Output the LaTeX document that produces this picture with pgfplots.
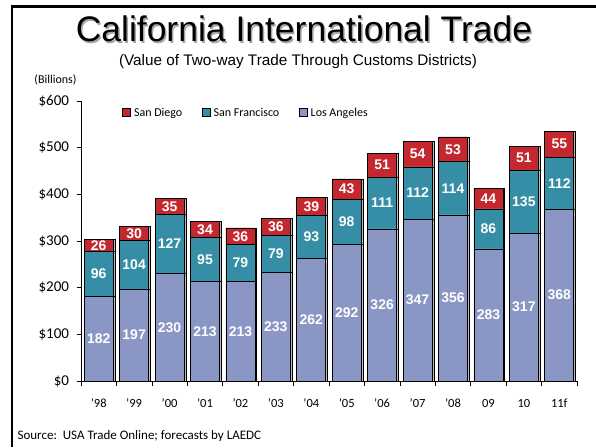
\documentclass[border=0pt]{standalone}
\usepackage{pgfplots}
\pgfplotsset{compat=1.18}
\usepackage{fontspec}
\setmainfont{Carlito}
\newfontfamily\arial{Liberation Sans}
\definecolor{sdred}{HTML}{C4282E}
\definecolor{sfteal}{HTML}{358EA5}
\definecolor{lalav}{HTML}{8A97C4}
\pgfplotstableread{
x LA SF SD
0 182 96 26
1 197 104 30
2 230 127 35
3 213 95 34
4 213 79 36
5 233 79 36
6 262 93 39
7 292 98 43
8 326 111 51
9 347 112 54
10 356 114 53
11 283 86 44
12 317 135 51
13 368 112 55
}\trade
\begin{document}
\begin{tikzpicture}[x=1pt,y=1pt]
\useasboundingbox (0,0) rectangle (596,447);
\draw[line width=2.3pt] (12,0) -- (12,440.5) -- (596,440.5);
\node[text=black!35, font=\arial\fontsize{35.5}{40}\selectfont] at (305.5,416.5) {California International Trade};
\node[font=\arial\fontsize{35.5}{40}\selectfont] at (304,418) {California International Trade};
\node[font=\arial\fontsize{15.3}{18}\selectfont] at (298,385.5) {(Value of Two-way Trade Through Customs Districts)};
\node[font=\fontsize{12}{14}\selectfont] at (55.5,367.5) {(Billions)};
\node[font=\fontsize{13}{15}\selectfont, anchor=west] at (14,11) {Source:\ \ USA Trade Online; forecasts by LAEDC};
\begin{axis}[
  at={(81pt,66pt)}, anchor=south west, scale only axis,
  width=496pt, height=280pt,
  ybar stacked, bar width=29pt,
  xmin=-0.5, xmax=13.5, ymin=0, ymax=600,
  axis lines*=left,
  axis line style={line width=0.8pt},
  tick align=outside, major tick length=4.5pt,
  tick style={black, line width=0.5pt},
  xtick={-0.5,0.5,...,13.5},
  xticklabels={'98,'99,'00,'01,'02,'03,'04,'05,'06,'07,'08,09,10,11f,{}},
  xticklabel style={xshift=17.71pt, font=\fontsize{12.5}{14}\selectfont, yshift=-10pt},
  ytick={0,100,...,600},
  yticklabel={\$\pgfmathprintnumber{\tick}},
  yticklabel style={font=\fontsize{15}{17}\selectfont, xshift=-4pt},
  /pgf/number format/assume math mode=true,
  legend style={at={(0.334,0.957)}, anchor=center, draw=none, fill=none,
    legend columns=3, font=\fontsize{12}{14}\selectfont,
    nodes={inner xsep=3.5pt},
    /tikz/every even column/.append style={column sep=16pt}},
  legend image code/.code={\draw[#1] (0pt,-3.5pt) rectangle (8pt,4.5pt);},
  visualization depends on=rawy\as\rawy,
  nodes near coords={\pgfmathprintnumber{\rawy}},
  every node near coord/.append style={anchor=center, text=white,
    font=\arial\bfseries\fontsize{14}{14}\selectfont},
]
\addlegendimage{fill=sdred, draw=black, line width=0.4pt}
\addlegendimage{fill=sfteal, draw=black, line width=0.4pt}
\addlegendimage{fill=lalav, draw=black, line width=0.4pt}
\legend{San Diego, San Francisco, Los Angeles}
\addplot[fill=lalav, draw=black, line width=0.6pt, preaction={fill=black!25, transform canvas={xshift=1.8pt}}] table[x=x, y=LA] {\trade};
\addplot[fill=sfteal, draw=black, line width=0.6pt, preaction={fill=black!25, transform canvas={xshift=1.8pt}}] table[x=x, y=SF] {\trade};
\addplot[fill=sdred, draw=black, line width=0.6pt, preaction={fill=black!25, transform canvas={xshift=1.8pt}}] table[x=x, y=SD] {\trade};
\end{axis}
\end{tikzpicture}
\end{document}
